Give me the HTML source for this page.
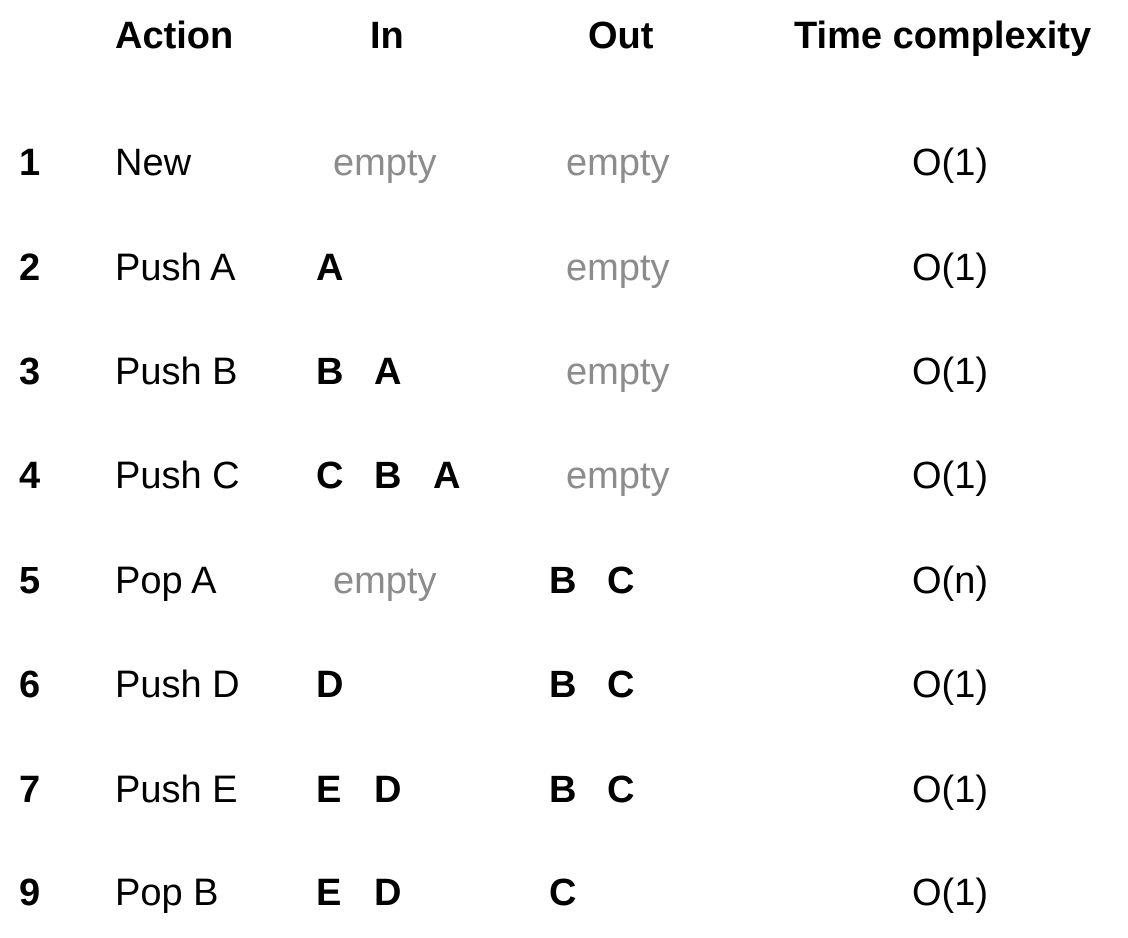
<!DOCTYPE html>
<html><head><meta charset="utf-8"><style>
html,body{margin:0;padding:0;background:#fff;}
body{width:1128px;height:938px;position:relative;overflow:hidden;font-family:"Liberation Sans",Arial,sans-serif;color:#000;}
.t{position:absolute;font-size:38px;line-height:38px;white-space:nowrap;}
.b{font-weight:bold;}
.g{color:#8c8c8c;}
</style></head><body>
<div class="t b" style="left:115px;top:17px">Action</div>
<div class="t b" style="left:370px;top:17px">In</div>
<div class="t b" style="left:588px;top:17px">Out</div>
<div class="t b" style="left:794px;top:17px">Time complexity</div>

<div class="t b" style="left:19px;top:144px">1</div>
<div class="t" style="left:115px;top:144px">New</div>
<div class="t g" style="left:333px;top:144px">empty</div>
<div class="t g" style="left:566px;top:144px">empty</div>
<div class="t" style="left:912px;top:144px">O(1)</div>

<div class="t b" style="left:19px;top:249px">2</div>
<div class="t" style="left:115px;top:249px">Push A</div>
<div class="t b" style="left:316px;top:249px">A</div>
<div class="t g" style="left:566px;top:249px">empty</div>
<div class="t" style="left:912px;top:249px">O(1)</div>

<div class="t b" style="left:19px;top:353px">3</div>
<div class="t" style="left:115px;top:353px">Push B</div>
<div class="t b" style="left:316px;top:353px">B</div>
<div class="t b" style="left:374px;top:353px">A</div>
<div class="t g" style="left:566px;top:353px">empty</div>
<div class="t" style="left:912px;top:353px">O(1)</div>

<div class="t b" style="left:19px;top:457px">4</div>
<div class="t" style="left:115px;top:457px">Push C</div>
<div class="t b" style="left:316px;top:457px">C</div>
<div class="t b" style="left:374px;top:457px">B</div>
<div class="t b" style="left:433px;top:457px">A</div>
<div class="t g" style="left:566px;top:457px">empty</div>
<div class="t" style="left:912px;top:457px">O(1)</div>

<div class="t b" style="left:19px;top:562px">5</div>
<div class="t" style="left:115px;top:562px">Pop A</div>
<div class="t g" style="left:333px;top:562px">empty</div>
<div class="t b" style="left:549px;top:562px">B</div>
<div class="t b" style="left:607px;top:562px">C</div>
<div class="t" style="left:912px;top:562px">O(n)</div>

<div class="t b" style="left:19px;top:666px">6</div>
<div class="t" style="left:115px;top:666px">Push D</div>
<div class="t b" style="left:316px;top:666px">D</div>
<div class="t b" style="left:549px;top:666px">B</div>
<div class="t b" style="left:607px;top:666px">C</div>
<div class="t" style="left:912px;top:666px">O(1)</div>

<div class="t b" style="left:19px;top:771px">7</div>
<div class="t" style="left:115px;top:771px">Push E</div>
<div class="t b" style="left:316px;top:771px">E</div>
<div class="t b" style="left:374px;top:771px">D</div>
<div class="t b" style="left:549px;top:771px">B</div>
<div class="t b" style="left:607px;top:771px">C</div>
<div class="t" style="left:912px;top:771px">O(1)</div>

<div class="t b" style="left:19px;top:874px">9</div>
<div class="t" style="left:115px;top:874px">Pop B</div>
<div class="t b" style="left:316px;top:874px">E</div>
<div class="t b" style="left:374px;top:874px">D</div>
<div class="t b" style="left:549px;top:874px">C</div>
<div class="t" style="left:912px;top:874px">O(1)</div>
</body></html>
